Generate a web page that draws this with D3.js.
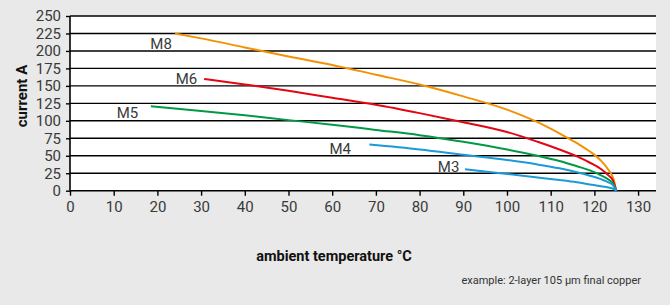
<!DOCTYPE html>
<html>
<head>
<meta charset="utf-8">
<script src="https://cdn.jsdelivr.net/npm/d3@7"></script>
<style>
	body { margin: 0; background: #e8e9e8; }
	svg { display: block; }
	text { font-family: "Liberation Sans Narrow", "Arial Narrow", "Roboto", sans-serif; }
</style>
</head>
<body>
<div id="chart"></div>
<script>
// ---- data (temperature in °C, current in A)
const xTicks = [0, 10, 20, 30, 40, 50, 60, 70, 80, 90, 100, 110, 120, 130];
const yTicks = [0, 25, 50, 75, 100, 125, 150, 175, 200, 225, 250];

const seriesNames = ["M8", "M6", "M5", "M4", "M3"];
const seriesColors = ["#f39200", "#e30613", "#009a44", "#1a9ad6", "#1a9ad6"];

const m8 = [[24, 225], [30, 218], [40, 205], [50, 192], [60, 180], [70, 166], [80, 152], [90, 135], [100, 116],
	[107, 98], [112, 82], [116, 68], [119, 56], [121.5, 43], [123.2, 30], [124.3, 18], [125, 0]];
const m6 = [[30.7, 160], [40, 152], [50, 143], [60, 133], [70, 123], [80, 111], [90, 98], [100, 84],
	[107, 70], [112, 59], [116, 49], [119, 40], [121.5, 31], [123.2, 22], [124.3, 14], [125, 0]];
const m5 = [[18.5, 121], [30, 114], [40, 108], [50, 101], [60, 94.5], [70, 87], [80, 79.5], [90, 70], [100, 59],
	[107, 50], [112, 42.5], [116, 35], [119, 29], [121.5, 22], [123.2, 16], [124.3, 10], [125, 0]];
const m4 = [[68.5, 66], [80, 59], [90, 51.5], [100, 44], [107, 37.5], [112, 32], [116, 26.5],
	[119, 21.5], [121.5, 16.5], [123.2, 12], [124.3, 7.5], [125, 0]];
const m3 = [[90.4, 30.6], [100, 24], [107, 19], [112, 15.3], [116, 12], [119, 9], [121.5, 6.5], [123.2, 4.5], [124.3, 2.5], [125, 0]];
const seriesValues = [m8, m6, m5, m4, m3];

// where each curve name sits (right end of text, baseline), in chart units
const labelAt = [[23.3, 202.8], [29.1, 152.7], [15.6, 104], [64.3, 52.5], [89.1, 26.8]];

//-----------------------------------
const W = 670, H = 305,
	margin = { left: 70, top: 16 },
	plotW = 586, plotH = 174.7;

const svg = d3.select("#chart").append("svg")
	.attr("width", W).attr("height", H);

svg.append("rect").attr("width", W).attr("height", H).attr("fill", "#e8e9e8");

const g = svg.append("g").attr("transform", `translate(${margin.left},${margin.top})`);

const x = d3.scaleLinear().domain([0, 134.1]).range([0, plotW]);
const y = d3.scaleLinear().domain([0, 250]).range([plotH, 0]);

g.append("rect").attr("width", plotW).attr("height", plotH).attr("fill", "#fff");

// grid lines
g.append("g").selectAll("line").data(yTicks.filter(d => d > 0)).join("line")
	.attr("x1", 0).attr("x2", plotW)
	.attr("y1", d => y(d)).attr("y2", d => y(d))
	.attr("stroke", "#000").attr("stroke-width", 1.4);

// axes
const yAxis = g.append("g")
	.call(d3.axisLeft(y).tickValues(yTicks).tickSize(4).tickPadding(5));
const xAxis = g.append("g").attr("transform", `translate(0,${plotH})`)
	.call(d3.axisBottom(x).tickValues(xTicks).tickSize(5).tickPadding(6));

[xAxis, yAxis].forEach(a => {
	a.select(".domain").attr("stroke", "#000").attr("stroke-width", 1.6);
	a.selectAll(".tick line").attr("stroke", "#000").attr("stroke-width", 1.4);
	a.selectAll(".tick text").attr("fill", "#3a3a3a").style("font-size", "15px");
});
xAxis.select(".domain").attr("d", `M0,0H${plotW}`);
yAxis.select(".domain").attr("d", `M0,${plotH}V0`);

// curves
const line = d3.line()
	.x(d => x(d[0])).y(d => y(d[1]))
	.curve(d3.curveMonotoneX);

g.append("g").selectAll("path").data(seriesValues).join("path")
	.attr("d", line)
	.attr("fill", "none")
	.attr("stroke", (d, i) => seriesColors[i])
	.attr("stroke-width", 2);

g.append("g").selectAll("text").data(seriesNames).join("text")
	.attr("x", (d, i) => x(labelAt[i][0]))
	.attr("y", (d, i) => y(labelAt[i][1]))
	.attr("text-anchor", "end")
	.attr("fill", "#3a3a3a")
	.style("font-size", "15px")
	.text(d => d);

// titles
svg.append("text")
	.attr("transform", "translate(27,96) rotate(-90)")
	.attr("text-anchor", "middle")
	.attr("fill", "#111")
	.style("font-size", "15px").style("font-weight", "bold")
	.text("current A");

svg.append("text")
	.attr("x", 334).attr("y", 261)
	.attr("text-anchor", "middle")
	.attr("fill", "#111")
	.style("font-size", "14.5px").style("font-weight", "bold")
	.text("ambient temperature °C");

svg.append("text")
	.attr("x", 641).attr("y", 284)
	.attr("text-anchor", "end")
	.attr("fill", "#333")
	.style("font-size", "11px")
	.text("example: 2-layer 105 µm final copper");
</script>
</body>
</html>
